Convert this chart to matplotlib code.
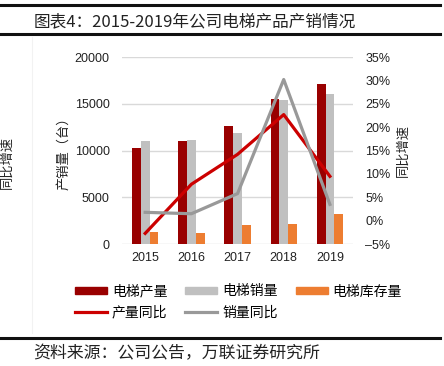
import matplotlib
matplotlib.use("Agg")
import matplotlib.pyplot as plt
import numpy as np
from matplotlib.lines import Line2D
from matplotlib.patches import Patch
from matplotlib.ticker import FuncFormatter

plt.rcParams['font.family'] = ['Liberation Sans', 'Noto Sans CJK SC', 'DejaVu Sans']
CJK = ['Noto Sans CJK SC', 'DejaVu Sans']

# data
years = ["2015", "2016", "2017", "2018", "2019"]
output_units = [10240, 11050, 12650, 15540, 17080]   # 电梯产量
sales_units = [11020, 11160, 11840, 15400, 16010]    # 电梯销量
stock_units = [1280, 1180, 2000, 2140, 3210]         # 电梯库存量
output_yoy = [-2.7, 7.8, 14.2, 22.7, 9.5]            # 产量同比 (%)
sales_yoy = [1.8, 1.5, 5.8, 30.2, 3.5]               # 销量同比 (%)

c_out = "#990000"
c_sales = "#c0c0c0"
c_stock = "#ed7d31"
c_out_line = "#cc0000"
c_sales_line = "#999999"

fig = plt.figure(figsize=(4.44, 3.66), dpi=100)
ax = fig.add_axes([0.275, 0.333, 0.52, 0.511])
ax2 = ax.twinx()

x = np.arange(len(years))
w = 0.19
ax.bar(x - w, output_units, w, color=c_out, zorder=3)
ax.bar(x, sales_units, w, color=c_sales, zorder=3)
ax.bar(x + w, stock_units, w, color=c_stock, zorder=3)

ax2.plot(x, output_yoy, color=c_out_line, lw=2.3, zorder=4)
ax2.plot(x, sales_yoy, color=c_sales_line, lw=2.3, zorder=4)

ax.set_xlim(-0.5, len(years) - 0.5)
ax.set_ylim(0, 20000)
ax.set_yticks([0, 5000, 10000, 15000, 20000])
ax.set_xticks(x)
ax.set_xticklabels(years)
ax2.set_ylim(-5, 35)
ax2.set_yticks(range(-5, 40, 5))
ax2.yaxis.set_major_formatter(FuncFormatter(lambda v, p: f"{v:.0f}%".replace("-", "\u2013")))

ax.grid(axis="y", color="#d9d9d9", lw=1, zorder=0)
ax.set_axisbelow(True)
for a in (ax, ax2):
    for s in a.spines.values():
        s.set_visible(False)
ax.tick_params(axis="y", length=0, pad=9, labelsize=9, colors="#222222")
ax.tick_params(axis="x", length=0, pad=6, labelsize=9, colors="#222222")
ax2.tick_params(axis="y", length=0, pad=9, labelsize=9, colors="#222222")

ax.set_ylabel("产销量（台）", family=CJK, fontsize=9.5, labelpad=3, color="#222222")
ax2.set_ylabel("同比增速", family=CJK, fontsize=9.5, rotation=90, labelpad=4, color="#222222")

# stray label at the left edge
fig.text(0.016, 0.557, "同比增速", family=CJK, fontsize=9.5, rotation=90,
         ha="center", va="center", color="#222222")
fig.add_artist(Line2D([0.072, 0.072], [0.09, 0.9], color="#f2f2f2", lw=0.8, transform=fig.transFigure))

# legend
handles = [
    Patch(color=c_out), Line2D([], [], color=c_out_line, lw=2.3),
    Patch(color=c_sales), Line2D([], [], color=c_sales_line, lw=2.3),
    Patch(color=c_stock),
]
labels = ["电梯产量", "产量同比", "电梯销量", "销量同比", "电梯库存量"]
fig.legend(handles, labels, ncol=3, loc="center left", bbox_to_anchor=(0.141, 0.175),
           frameon=False, prop={"family": CJK, "size": 10}, handlelength=2.3,
           handleheight=0.45, handletextpad=0.35, columnspacing=1.3, labelspacing=0.5)

# title, rules and source
fig.text(0.075, 0.94, "图表4：2015-2019年公司电梯产品产销情况", family=CJK,
         fontsize=12, va="center", ha="left", color="#222222")
for yy in (0.986, 0.908, 0.076):
    fig.add_artist(Line2D([0, 0.99], [yy, yy], color="#111111", lw=2.2, transform=fig.transFigure))
fig.text(0.075, 0.035, "资料来源：公司公告，万联证券研究所", family=CJK,
         fontsize=12.2, style="italic", va="center", ha="left", color="#222222")

fig.savefig("out.png", dpi=100)
